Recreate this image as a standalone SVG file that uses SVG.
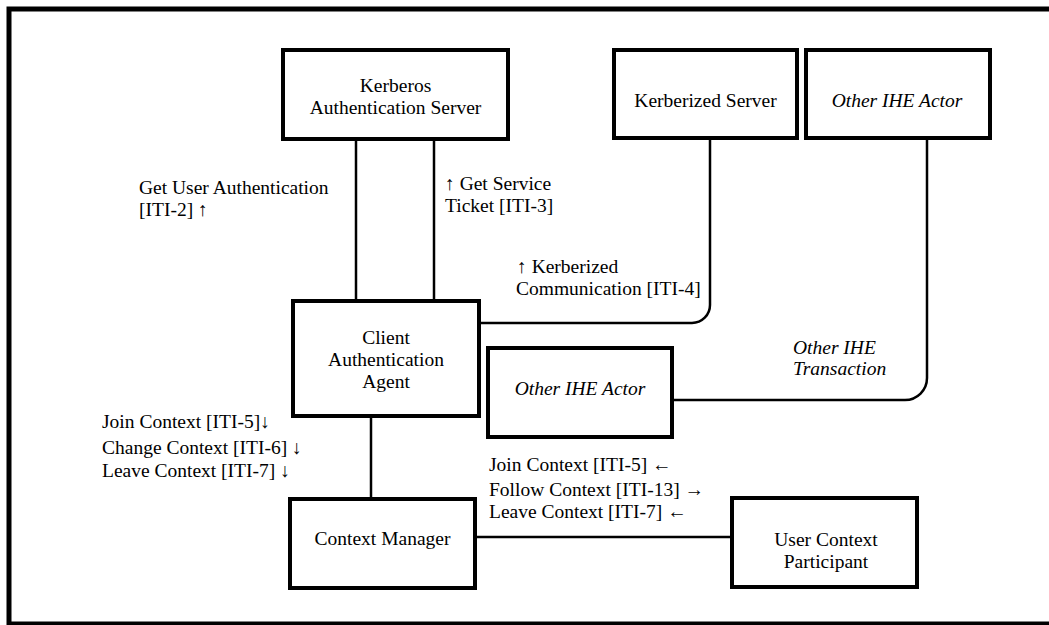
<svg xmlns="http://www.w3.org/2000/svg" width="1049" height="625" viewBox="0 0 1049 625">
<style>
.box{fill:#fff;stroke:#000;stroke-width:4}
.ln{fill:none;stroke:#000;stroke-width:2.5}
text{font-family:"Liberation Serif","Times New Roman",serif;font-size:19.5px;fill:#000}
.c{text-anchor:middle}
.i{font-style:italic}
</style>
<rect x="0" y="0" width="1049" height="625" fill="#fff"/>
<rect x="9" y="9" width="1100" height="615" fill="none" stroke="#000" stroke-width="5"/>
<g id="connectors">
<line class="ln" x1="356" y1="139" x2="356" y2="301"/>
<line class="ln" x1="434" y1="139" x2="434" y2="301"/>
<path class="ln" d="M479 323 H692 A18 18 0 0 0 710 305 V138"/>
<path class="ln" d="M668 400 H905 A22 22 0 0 0 927 378 V138"/>
<line class="ln" x1="371" y1="416" x2="371" y2="499"/>
<line class="ln" x1="475" y1="537" x2="732" y2="537"/>
</g>
<g id="kerberos">
<rect class="box" x="283" y="50" width="225" height="89"/>
<text class="c" x="395.5" y="92">Kerberos</text>
<text class="c" x="395.5" y="114">Authentication Server</text>
</g>
<g id="kerberized-server">
<rect class="box" x="614" y="50" width="183" height="88"/>
<text class="c" x="705.5" y="107">Kerberized Server</text>
</g>
<g id="other-actor-top">
<rect class="box" x="806" y="50" width="184" height="88"/>
<text class="c i" x="897" y="107">Other IHE Actor</text>
</g>
<g id="client">
<rect class="box" x="293" y="301" width="186" height="115"/>
<text class="c" x="386" y="344">Client</text>
<text class="c" x="386" y="366">Authentication</text>
<text class="c" x="386" y="388">Agent</text>
</g>
<g id="other-actor-mid">
<rect class="box" x="488" y="348" width="184" height="89"/>
<text class="c i" x="580" y="395">Other IHE Actor</text>
</g>
<g id="context-manager">
<rect class="box" x="290" y="499" width="185" height="89"/>
<text class="c" x="382.5" y="545">Context Manager</text>
</g>
<g id="user-context-participant">
<rect class="box" x="732" y="498" width="185" height="89"/>
<text class="c" x="826" y="546">User Context</text>
<text class="c" x="826" y="568">Participant</text>
</g>
<g id="labels">
<text x="139" y="194">Get User Authentication</text>
<text x="139" y="216">[ITI-2] ↑</text>
<text x="445" y="190">↑ Get Service</text>
<text x="445" y="212">Ticket [ITI-3]</text>
<text x="517" y="273">↑ Kerberized</text>
<text x="516" y="295">Communication [ITI-4]</text>
<text class="i" x="793" y="354">Other IHE</text>
<text class="i" x="793" y="375">Transaction</text>
<text x="102" y="428">Join Context [ITI-5]↓</text>
<text x="102" y="454">Change Context [ITI-6] ↓</text>
<text x="102" y="477">Leave Context [ITI-7] ↓</text>
<text x="489" y="471">Join Context [ITI-5] ←</text>
<text x="489" y="496">Follow Context [ITI-13] →</text>
<text x="489" y="518">Leave Context [ITI-7] ←</text>
</g>
</svg>
